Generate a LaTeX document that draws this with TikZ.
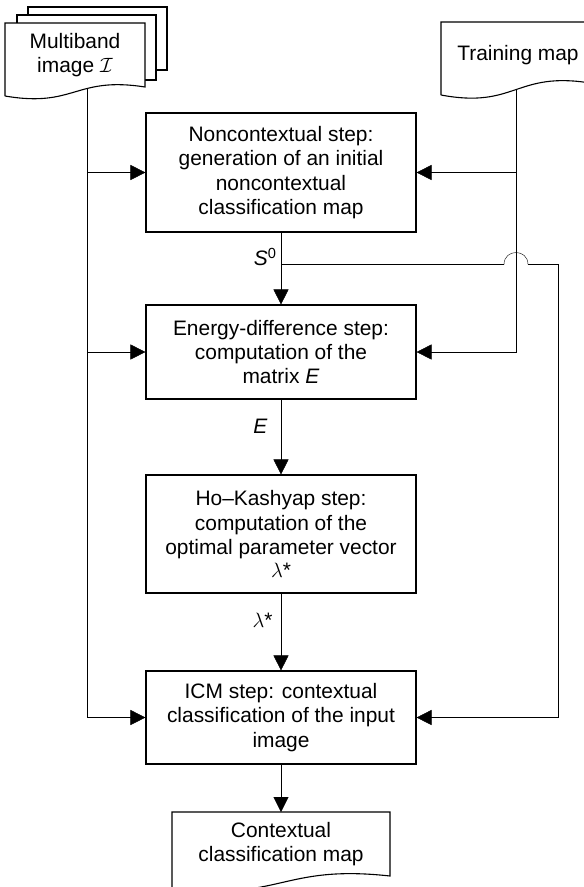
\documentclass[tikz,border=0pt]{standalone}
\usepackage{fontspec}
\setmainfont{Liberation Sans}
\usetikzlibrary{arrows.meta,backgrounds}

\begin{document}
\begin{tikzpicture}[>={Triangle[length=15bp,width=15bp]},x=1bp,y=-1bp,line width=1.1bp,
  font=\fontsize{21}{24.5}\selectfont,
  stepbox/.style={draw,minimum width=270bp,align=center,inner sep=0pt},
  doctext/.style={align=center,inner sep=0pt},
  lbl/.style={anchor=east,inner sep=0pt}]

                \useasboundingbox (0,0) rectangle (584,887);

                % Multiband image (stack of pages)
                \draw [fill=white] (28,7) rectangle (167,70);
                \draw [fill=white] (17,15) rectangle (156,80);
                \draw [fill=white] (5,96) -- (5,23) -- (145,23) -- (145,87) .. controls (75,76) and (75,108) .. (5,96);
                \node [doctext] (mb) at (75,55) {Multiband\\image $\mathcal{I}$};
                \coordinate (mbfoot) at (87,80);

                % Training map
                \draw [fill=white] (441,95) -- (441,22) -- (590,22) -- (590,83) .. controls (515.5,71) and (515.5,109) .. (441,95);
                \node [doctext] (tm) at (518,55) {Training map};
                \coordinate (tmfoot) at (516,80);

                % Steps
                \node [stepbox,minimum height=119bp] (nc) at (281,172.5) {Noncontextual step:\\generation of an initial\\noncontextual\\classification map};
                \node [stepbox,minimum height=94bp] (ed) at (281,352) {Energy-difference step:\\computation of the\\matrix \textit{E}};
                \node [stepbox,minimum height=118bp] (hk) at (281,534) {Ho--Kashyap step:\\computation of the\\optimal parameter vector\\[-2pt]$\lambda$*};
                \node [stepbox,minimum height=93bp] (icm) at (281,717.5) {ICM step: contextual\\classification of the input\\image};

                % Contextual classification map
                \draw [fill=white] (172,888) -- (172,812) -- (390,812) -- (390,876) .. controls (281,864) and (281,902) .. (172,888);
                \node [doctext] (ctx) at (281,844) {Contextual\\classification map};
                \coordinate (ctxtop) at (281,812);

                % Labels on the links
                \node [lbl] (lbls) at (277,257) {\textit{S}\textsuperscript{0}};
                \node [lbl] (lble) at (268,426) {\textit{E}};
                \node [lbl] (lbll) at (273,620) {$\lambda$*};

                \begin{pgfonlayer}{background}
                % Multiband image into the steps
                \draw [->] (mbfoot) |- (icm.west);
                \draw [->] (mbfoot |- nc.west) -- (nc.west);
                \draw [->] (mbfoot |- ed.west) -- (ed.west);

                % Training map into the steps
                \draw [->] (tmfoot) |- (ed.east);
                \draw [->] (tmfoot |- nc.east) -- (nc.east);

                % Main chain
                \draw [->] (nc) -- (ed);
                \draw [->] (ed) -- (hk);
                \draw [->] (hk) -- (icm);
                \draw [->] (icm) -- (ctxtop);

                % S0 to the ICM step, hopping over the training line
                \coordinate (split) at (281,264.5);
                \draw (split) -- (504,264.5);
                \draw (504,264.5) .. controls (504,248.5) and (528,248.5) .. (528,264.5);
                \draw [->] (528,264.5) -- (558.5,264.5) |- (icm.east);
                \end{pgfonlayer}

            \end{tikzpicture}
\end{document}
